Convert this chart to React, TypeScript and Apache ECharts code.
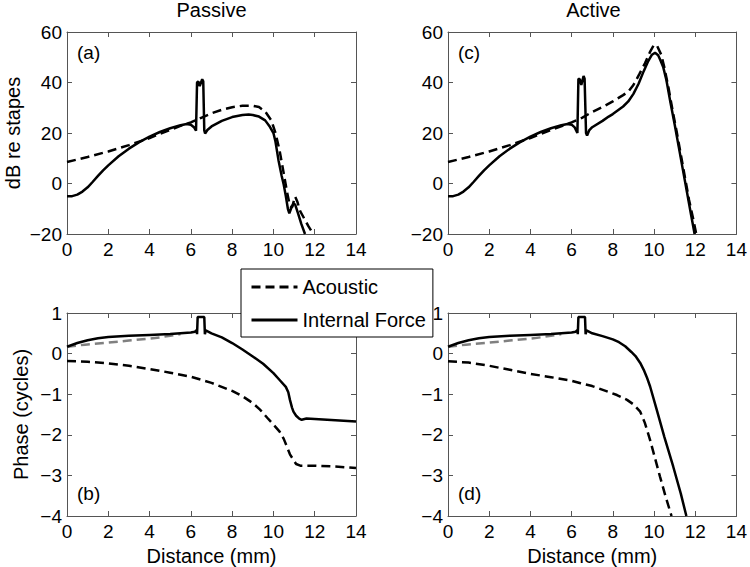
import React, { useEffect, useRef } from "react";
import * as echarts from "echarts";

// ---- Data (distance mm, value) ----
const passiveDbForce: [number, number][] = [
  [0, -5], [0.25, -5], [0.5, -4.4], [0.75, -3.2], [1, -1.5], [1.25, 0.7], [1.5, 3], [1.75, 5.2], [2, 7.2],
  [2.5, 10.8], [3, 13.8], [3.5, 16.4], [4, 18.6], [4.5, 20.4], [5, 21.9], [5.5, 23.1], [5.8, 23.6], [6, 23.3],
  [6.15, 22.3], [6.25, 20.9], [6.3, 40], [6.36, 40.4], [6.43, 38.6], [6.55, 41.3], [6.6, 40.5], [6.65, 21],
  [6.69, 19.8], [6.8, 21.2], [7, 22.6], [7.5, 24.8], [8, 26.3], [8.5, 27.1], [8.8, 27.3], [9, 27.1], [9.3, 26.5],
  [9.6, 25], [9.8, 22.8], [10, 20], [10.1, 16.5], [10.25, 9], [10.4, 3], [10.5, -0.5], [10.6, -5], [10.7, -10],
  [10.77, -11.8], [10.85, -10], [10.97, -7.9], [11.05, -8.3], [11.2, -12], [11.35, -16], [11.53, -20]
];
const passiveDbAcoustic: [number, number][] = [
  [0, 8.5], [1, 10.5], [2, 12.7], [3, 15.2], [4, 18], [4.5, 19.7], [5, 21.2], [5.5, 22.8], [6, 24.2], [6.5, 26],
  [7, 27.8], [7.5, 29.2], [8, 30.2], [8.5, 30.8], [9, 30.8], [9.3, 30.3], [9.6, 28.5], [9.9, 25], [10.1, 20],
  [10.3, 13], [10.5, 4], [10.65, -3], [10.8, -9], [10.9, -9.5], [11.05, -5.2], [11.15, -7], [11.3, -11],
  [11.5, -14], [11.7, -17], [11.93, -20]
];
const activeDbForce: [number, number][] = [
  [0, -5], [0.25, -5], [0.5, -4.4], [0.75, -3.2], [1, -1.5], [1.25, 0.7], [1.5, 3], [1.75, 5.2], [2, 7.2],
  [2.5, 10.8], [3, 13.8], [3.5, 16.4], [4, 18.6], [4.5, 20.4], [5, 21.9], [5.5, 23.1], [5.8, 23.6], [6, 23.3],
  [6.15, 22.2], [6.28, 20], [6.33, 41.5], [6.4, 41.2], [6.47, 39], [6.58, 42.6], [6.63, 41.5], [6.7, 20],
  [6.75, 19], [6.85, 21], [7, 22.3], [7.5, 24.8], [7.8, 26.5], [8, 27.5], [8.5, 30.5], [8.75, 32.5], [9, 35.5],
  [9.25, 39.5], [9.5, 44.5], [9.72, 48.5], [9.9, 51], [10.05, 51.8], [10.2, 50.8], [10.3, 49], [10.45, 46],
  [10.6, 41], [10.8, 32], [11, 23.5], [11.2, 14.5], [11.4, 5.5], [11.6, -3.5], [11.8, -12.5], [11.97, -20]
];
const activeDbAcoustic: [number, number][] = [
  [0, 8.5], [1, 10.5], [2, 12.7], [3, 15.2], [4, 18], [5, 21.2], [6, 24.2], [6.5, 26], [7, 28.3], [7.5, 30.3],
  [8, 32.5], [8.5, 35], [8.75, 36.4], [9, 39], [9.3, 43.5], [9.56, 47.6], [9.8, 52], [10, 55], [10.15, 54.5],
  [10.35, 51], [10.5, 46], [10.7, 38], [10.9, 29], [11.1, 20.5], [11.3, 11.5], [11.5, 2.5], [11.7, -6.5],
  [11.9, -14], [12.05, -20]
];
const passivePhaseForce: [number, number][] = [
  [0, 0.17], [0.5, 0.26], [1, 0.33], [1.5, 0.38], [2, 0.41], [3, 0.44], [4, 0.46], [5, 0.48], [5.5, 0.5],
  [6, 0.52], [6.2, 0.54], [6.28, 0.58], [6.3, 0.48], [6.33, 0.9], [6.65, 0.9], [6.68, 0.48], [6.72, 0.57],
  [7, 0.5], [7.5, 0.4], [8, 0.26], [8.5, 0.1], [9, -0.07], [9.5, -0.25], [10, -0.48], [10.3, -0.65],
  [10.6, -0.82], [10.72, -0.95], [10.8, -1.14], [10.9, -1.33], [10.97, -1.43], [11.1, -1.53], [11.25, -1.6],
  [11.37, -1.63], [11.6, -1.6], [12, -1.61], [13, -1.64], [14, -1.67]
];
const passivePhaseAcoustic: [number, number][] = [
  [0, -0.18], [1, -0.2], [2, -0.24], [3, -0.3], [4, -0.38], [5, -0.47], [6, -0.57], [7, -0.72], [8, -0.92],
  [8.5, -1.05], [9, -1.22], [9.35, -1.38], [9.7, -1.58], [10, -1.75], [10.3, -1.92], [10.5, -2.1],
  [10.65, -2.29], [10.8, -2.48], [10.97, -2.62], [11.1, -2.72], [11.3, -2.76], [12, -2.76], [13, -2.78],
  [14, -2.82]
];
const activePhaseForce: [number, number][] = [
  [0, 0.17], [0.5, 0.26], [1, 0.33], [1.5, 0.38], [2, 0.41], [3, 0.44], [4, 0.46], [5, 0.48], [5.5, 0.5],
  [6, 0.52], [6.2, 0.54], [6.28, 0.58], [6.3, 0.48], [6.33, 0.9], [6.65, 0.9], [6.68, 0.48], [6.72, 0.57],
  [7, 0.5], [7.5, 0.43], [8, 0.35], [8.3, 0.28], [8.6, 0.18], [8.9, 0.04], [9.1, -0.06], [9.33, -0.23],
  [9.5, -0.4], [9.65, -0.58], [9.81, -0.81], [10.13, -1.38], [10.5, -2.05], [10.93, -2.78], [11.3, -3.45],
  [11.57, -4]
];
const activePhaseAcoustic: [number, number][] = [
  [0, -0.19], [1, -0.22], [2, -0.3], [3, -0.4], [4, -0.5], [5, -0.58], [6, -0.67], [6.44, -0.73], [7, -0.8],
  [7.72, -0.93], [8.2, -1.02], [8.69, -1.14], [9, -1.25], [9.33, -1.43], [9.55, -1.7], [9.81, -2.13],
  [10.05, -2.58], [10.29, -3.03], [10.55, -3.5], [10.85, -4]
];
const phaseReference: [number, number][] = [
  [0, 0.17], [0.87, 0.22], [2, 0.27], [3, 0.32], [4, 0.37], [4.5, 0.4], [5, 0.44], [5.5, 0.48]
];

const xTickMin = 0, xTickMax = 14, xTickStep = 2;
const dbMin = -20, dbMax = 60, dbStep = 20;
const phMin = -4, phMax = 1, phStep = 1;
const panelTitles = ["Passive", "Active"];
const panelTags = ["(a)", "(c)", "(b)", "(d)"];
const legendNames = ["Acoustic", "Internal Force"];

const FONT = "'Liberation Sans', Arial, Helvetica, sans-serif";
const AX = "#555";
const fmt = (v: number) => String(v).replace("-", "\u2212");

const grids = [
  { left: 67, top: 32, width: 289, height: 202 },
  { left: 448, top: 32, width: 291, height: 202 },
  { left: 67, top: 313, width: 289, height: 203 },
  { left: 448, top: 313, width: 291, height: 203 },
];

export default function App() {
  const ref = useRef<HTMLDivElement>(null);
  useEffect(() => {
    if (!ref.current) return;
    const chart = echarts.init(ref.current, undefined, { renderer: "svg" });
    const xAxis: any[] = [];
    const yAxis: any[] = [];
    grids.forEach((_, g) => {
      const isDb = g < 2;
      const base = {
        type: "value",
        gridIndex: g,
        axisLine: { show: true, onZero: false, lineStyle: { color: AX, width: 1 } },
        axisTick: { show: true, inside: true, length: 5, lineStyle: { color: AX } },
        splitLine: { show: false },
      };
      xAxis.push({
        ...base, min: xTickMin, max: xTickMax, interval: xTickStep, position: "bottom",
        axisLabel: { fontSize: 19, color: "#000", margin: 6, fontFamily: FONT, formatter: fmt },
        ...(isDb ? {} : {
          name: "Distance (mm)", nameLocation: "middle", nameGap: 30,
          nameTextStyle: { fontSize: 20, color: "#000", fontFamily: FONT },
        }),
      });
      xAxis.push({
        ...base, min: xTickMin, max: xTickMax, interval: xTickStep, position: "top",
        axisLabel: { show: false },
      });
      const ymin = isDb ? dbMin : phMin, ymax = isDb ? dbMax : phMax, ystep = isDb ? dbStep : phStep;
      const leftName = g === 0 ? "dB re stapes" : g === 2 ? "Phase (cycles)" : "";
      yAxis.push({
        ...base, min: ymin, max: ymax, interval: ystep, position: "left",
        axisLabel: { fontSize: 19, color: "#000", margin: 5, fontFamily: FONT, formatter: fmt },
        ...(leftName ? {
          name: leftName, nameLocation: "middle", nameGap: g === 0 ? 44 : 36, nameRotate: 90,
          nameTextStyle: { fontSize: 20, color: "#000", fontFamily: FONT },
        } : {}),
      });
      yAxis.push({
        ...base, min: ymin, max: ymax, interval: ystep, position: "right",
        axisLabel: { show: false },
      });
    });

    const line = (name: string, data: [number, number][], g: number, dashed: boolean, color = "#000") => ({
      type: "line",
      name,
      data,
      xAxisIndex: g * 2,
      yAxisIndex: g * 2,
      showSymbol: false,
      symbol: "none",
      clip: true,
      lineStyle: { color, width: 2.5, type: dashed ? [9, 5] : "solid" },
      itemStyle: { color },
      z: dashed ? 2 : 3,
    });

    const series = [
      line("Acoustic", passiveDbAcoustic, 0, true),
      line("Internal Force", passiveDbForce, 0, false),
      line("Acoustic", activeDbAcoustic, 1, true),
      line("Internal Force", activeDbForce, 1, false),
      line("Reference", phaseReference, 2, true, "#808080"),
      line("Acoustic", passivePhaseAcoustic, 2, true),
      line("Internal Force", passivePhaseForce, 2, false),
      line("Reference", phaseReference, 3, true, "#808080"),
      line("Acoustic", activePhaseAcoustic, 3, true),
      line("Internal Force", activePhaseForce, 3, false),
    ];

    const titleStyle = { fontSize: 20, fontWeight: "normal", color: "#000", fontFamily: FONT };
    const tagStyle = { fontSize: 19, fontWeight: "normal", color: "#000", fontFamily: FONT };
    const title = [
      { text: panelTitles[0], left: 211.5, top: 0, textAlign: "center", padding: 0, textStyle: titleStyle },
      { text: panelTitles[1], left: 593.5, top: 0, textAlign: "center", padding: 0, textStyle: titleStyle },
      { text: panelTags[0], left: 77, top: 43, padding: 0, textStyle: tagStyle },
      { text: panelTags[1], left: 458, top: 43, padding: 0, textStyle: tagStyle },
      { text: panelTags[2], left: 77, top: 484, padding: 0, textStyle: tagStyle },
      { text: panelTags[3], left: 458, top: 484, padding: 0, textStyle: tagStyle },
    ];

    chart.setOption({
      animation: false,
      backgroundColor: "#fff",
      title,
      grid: grids,
      xAxis,
      yAxis,
      legend: {
        data: legendNames,
        orient: "vertical",
        left: 241,
        top: 269,
        padding: [8, 7, 7, 9],
        itemWidth: 46,
        itemHeight: 20,
        itemGap: 13,
        backgroundColor: "#fff",
        borderColor: "#000",
        borderWidth: 1,
        borderRadius: 0,
        selectedMode: false,
        itemStyle: { opacity: 0 },
        lineStyle: { width: 3 },
        textStyle: { fontSize: 20, color: "#000", fontFamily: FONT, lineHeight: 20 },
        z: 10,
      },
      series,
    });
    return () => chart.dispose();
  }, []);
  return (
    <div
      ref={ref}
      style={{ position: "fixed", left: 0, top: 0, width: 750, height: 567, background: "#fff" }}
    />
  );
}
